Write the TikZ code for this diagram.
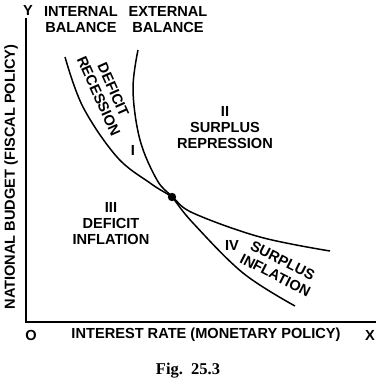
\documentclass[tikz,border=0pt]{standalone}
\usepackage{fontspec}
\setmainfont{Liberation Sans}
\newfontfamily\figfont{Liberation Serif}
\begin{document}
\begin{tikzpicture}[x=1pt,y=-1pt,
  lbl/.style={font=\bfseries\fontsize{14.6}{16}\selectfont, align=center, inner sep=0pt},
  curve/.style={line width=1.5pt},
  axis/.style={line width=1.6pt}]
\useasboundingbox (0,0) rectangle (384,386);
% axes
\coordinate (O) at (26,322);
\coordinate (Ytop) at (26,18);
\coordinate (Xend) at (376,322);
\draw[axis] (Ytop) -- (O) -- (Xend);
\node[lbl] (ylab) at (28,10) {Y};
\node[lbl] (olab) at (31,335) {O};
\node[lbl] (xlab) at (370,335) {X};
\node[lbl] (xaxlab) at (206,335) {INTEREST RATE (MONETARY POLICY)};
\node[lbl, rotate=90] (yaxlab) at (11,177) {NATIONAL BUDGET (FISCAL POLICY)};
% curves
\draw[curve] plot[smooth, tension=0.6] coordinates {(65,57) (83,107) (117,157) (150,183) (172,197) (193,213) (260,237) (330,251)};
\draw[curve] plot[smooth, tension=0.6] coordinates {(138,50) (133,90) (140,140) (157,180) (172,197) (193,223) (243,273) (295,306)};
\coordinate (E) at (172,197);
\fill (E) circle (4.2);
% curve labels
\node[lbl] (ib) at (81,20) {INTERNAL\\BALANCE};
\node[lbl] (eb) at (168,20) {EXTERNAL\\BALANCE};
% region labels
\node[lbl, rotate=-66] (r1) at (106,93) {DEFICIT\\RECESSION};
\node[lbl] (r1n) at (133,150) {I};
\node[lbl] (r2) at (225,128) {II\\SURPLUS\\REPRESSION};
\node[lbl] (r3) at (111,224) {III\\DEFICIT\\INFLATION};
\node[lbl] (r4n) at (232,245) {IV};
\node[lbl, rotate=-27] (r4) at (279,268) {SURPLUS\\INFLATION};
% caption
\node[font=\figfont\bfseries\fontsize{16.5}{18}\selectfont, inner sep=0pt] (cap) at (188,371) {Fig.\ \ 25.3};
\end{tikzpicture}
\end{document}
